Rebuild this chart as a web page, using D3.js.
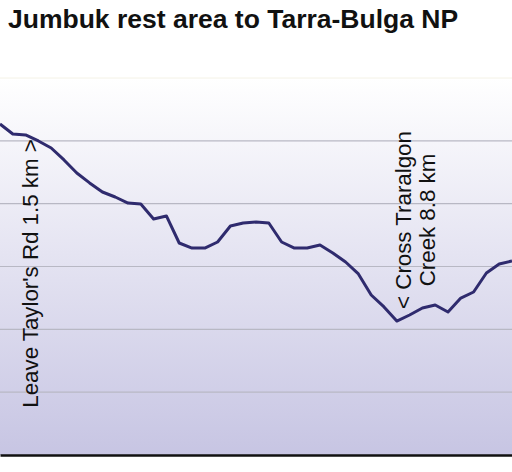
<!DOCTYPE html>
<html><head><meta charset="utf-8">
<script src="https://cdn.jsdelivr.net/npm/d3@7"></script>
<style>body{margin:0;background:#fff}svg{display:block}</style>
</head><body>
<script>
const title = "Jumbuk rest area to Tarra-Bulga NP";
const elevation = [263.4,255.4,254.7,249.9,244.3,234.8,224.4,216.5,209.3,205.3,200.5,199.7,187.8,190.2,168.7,164.7,164.7,169.5,182.2,184.6,185.4,184.6,169.5,164.7,164.7,167.1,160.8,153.6,144.1,127.3,117.8,106.6,111.4,117.0,119.4,113.8,124.9,129.7,144.8,152.0,154.4];
const gridValues = [50,100,150,200,250];
const notes = [
  {i:2.35, lines:["Leave Taylor's Rd 1.5 km >"]},
  {i:31.5, lines:["< Cross Traralgon","Creek 8.8 km"]}
];
const W=512,H=472;
const svg=d3.select("body").append("svg").attr("width",W).attr("height",H);
const x=d3.scaleLinear().domain([0,elevation.length-1]).range([0,W]);
const y=d3.scaleLinear().domain([0,300]).range([455,78]);
const defs=svg.append("defs");
const g=defs.append("linearGradient").attr("id","bg").attr("x1",0).attr("y1",0).attr("x2",0).attr("y2",1);
g.append("stop").attr("offset",0).attr("stop-color","#ffffff");
g.append("stop").attr("offset",1).attr("stop-color","#c7c5e3");
svg.append("rect").attr("x",0).attr("y",y(300)).attr("width",W).attr("height",y(0)-y(300)).attr("fill","url(#bg)");
svg.append("line").attr("x1",0).attr("x2",W).attr("y1",y(300)).attr("y2",y(300)).attr("stroke","#f4f2e6").attr("stroke-width",1);
svg.append("g").selectAll("line").data(gridValues).join("line")
  .attr("x1",0).attr("x2",W).attr("y1",d=>y(d)).attr("y2",d=>y(d)).attr("stroke","#b8b8c4").attr("stroke-width",1.2);
svg.append("g").attr("transform",`translate(0,${y(0)})`).call(d3.axisBottom(x).ticks(0).tickSize(0))
  .call(a=>a.select(".domain").attr("stroke","#111").attr("stroke-width",2.5));
svg.append("path").datum(elevation)
  .attr("d",d3.line().x((d,i)=>x(i)).y(d=>y(d)))
  .attr("fill","none").attr("stroke","#2f2b6e").attr("stroke-width",3).attr("stroke-linejoin","round");
notes.forEach(n=>{
  const t=svg.append("text").attr("transform",`translate(${x(n.i)},${n.lines.length>1?220:273.5}) rotate(-90)`)
    .attr("text-anchor","middle").attr("font-family","Liberation Sans, Arial, sans-serif").attr("font-size",22.3).attr("fill","#111");
  n.lines.forEach((l,k)=>t.append("tspan").attr("x",0).attr("dy",k?24:8).text(l));
});
svg.append("text").attr("x",8).attr("y",28).attr("font-family","Liberation Sans, Arial, sans-serif")
  .attr("font-weight","bold").attr("font-size",26.5).attr("fill","#111").text(title);
</script>
</body></html>
